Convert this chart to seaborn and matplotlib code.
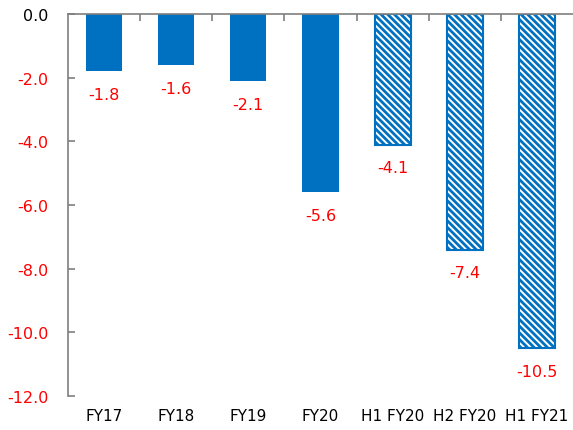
import numpy as np
import pandas as pd
import matplotlib
matplotlib.use("Agg")
import matplotlib.pyplot as plt
import seaborn as sns

# data
categories = ["FY17", "FY18", "FY19", "FY20", "H1 FY20", "H2 FY20", "H1 FY21"]
values = [-1.8, -1.6, -2.1, -5.6, -4.1, -7.4, -10.5]
hatched = [False, False, False, False, True, True, True]
yticks = [0, -2, -4, -6, -8, -10, -12]

blue = "#0070C0"
red = "#FF0000"

sns.set_style("white")
plt.rcParams["font.family"] = ["DejaVu Sans"]
plt.rcParams["hatch.linewidth"] = 2.0
plt.rcParams["hatch.color"] = blue

df = pd.DataFrame({"cat": categories, "val": values})

fig = plt.figure(figsize=(5.73, 4.31), dpi=100)
ax = fig.add_axes([68 / 573, 34 / 431, 505 / 573, 382 / 431])

sns.barplot(data=df, x="cat", y="val", color=blue, saturation=1,
            width=0.5, ax=ax, order=categories)

for p, h in zip(ax.patches, hatched):
    if h:
        p.set_facecolor("white")
        p.set_edgecolor(blue)
        p.set_hatch("\\" * 5)
        p.set_linewidth(1.5)
    else:
        p.set_linewidth(0)

# value labels under each bar
for i, v in enumerate(values):
    ax.text(i, v - 0.5, f"{v:.1f}", ha="center", va="top",
            color=red, fontsize=11.5)

ax.set_ylim(-12, 0)
ax.set_xlim(-0.5, len(categories) - 0.5)
ax.set_yticks(yticks)
ax.set_yticklabels([f"{t:.1f}" for t in yticks], fontsize=11.5)
for lab, t in zip(ax.get_yticklabels(), yticks):
    lab.set_color("black" if t == 0 else red)

# category names at the bottom, boundary ticks on the top axis line
ax.set_xticks(range(len(categories)))
ax.set_xticklabels(categories, fontsize=11)
ax.set_xticks(np.arange(0.5, len(categories) - 0.5, 1), minor=True)
ax.tick_params(axis="x", which="major", length=0, pad=9, colors="black")
ax.tick_params(axis="x", which="minor", top=True, bottom=False,
               direction="in", length=5, color="#7f7f7f", width=1.2)
ax.tick_params(axis="y", direction="in", length=5, color="#7f7f7f",
               width=1.2, left=True, pad=14)
ax.set_xlabel("")
ax.set_ylabel("")

ax.spines["bottom"].set_visible(False)
ax.spines["right"].set_visible(False)
for s in ["top", "left"]:
    ax.spines[s].set_color("#7f7f7f")
    ax.spines[s].set_linewidth(1.2)

plt.savefig("out.png", dpi=100)
